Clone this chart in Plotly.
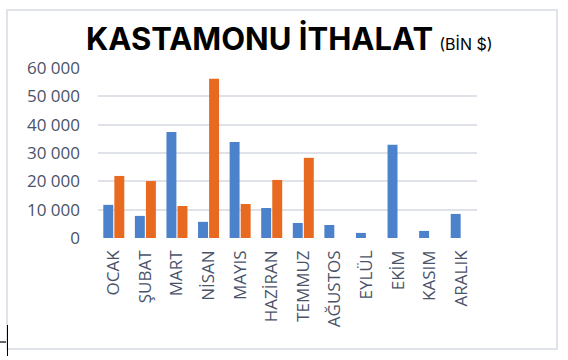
import plotly.graph_objects as go

months = ["OCAK", "ŞUBAT", "MART", "NİSAN", "MAYIS", "HAZİRAN", "TEMMUZ",
          "AĞUSTOS", "EYLÜL", "EKİM", "KASIM", "ARALIK"]
series_blue = [11700, 7800, 37400, 5700, 33900, 10600, 5300, 4600, 1800, 32900, 2500, 8500]
series_orange = [21900, 20100, 11300, 56200, 12000, 20500, 28300, None, None, None, None, None]
y_tickvals = [0, 10000, 20000, 30000, 40000, 50000, 60000]
y_ticktext = ["0", "10 000", "20 000", "30 000", "40 000", "50 000", "60 000"]

W, H = 568, 360
L, R, T, B = 98, 477, 68, 238  # plot area in px
pw, ph = R - L, B - T


def px_x(x):
    return (x - L) / pw


def px_y(y):
    return (B - y) / ph


fig = go.Figure()
fig.add_trace(go.Bar(x=months, y=series_blue, name="Seri 1",
                     marker=dict(color="#4c82cc", line=dict(width=0))))
fig.add_trace(go.Bar(x=months, y=series_orange, name="Seri 2",
                     marker=dict(color="#e86a20", line=dict(width=0))))

tick_font = dict(family="Open Sans, sans-serif", size=17, color="#4a5369")

fig.update_layout(
    width=W, height=H,
    margin=dict(l=L, r=W - R, t=T, b=H - B, pad=0),
    paper_bgcolor="white", plot_bgcolor="white",
    showlegend=False,
    barmode="group", bargap=0.3, bargroupgap=0.1,
    xaxis=dict(showgrid=False, zeroline=False, showline=False, tickangle=-90,
               tickfont=tick_font, ticks="", ticklabelstandoff=8),
    yaxis=dict(range=[0, 60000], tickvals=y_tickvals, ticktext=y_ticktext,
               showgrid=True, gridcolor="#dfe2e8", gridwidth=2,
               zeroline=False, showline=False, tickfont=tick_font,
               ticks="", ticklabelstandoff=17),
)

# title
fig.add_annotation(xref="paper", yref="paper", x=px_x(84), y=px_y(39),
                   xanchor="left", yanchor="middle", showarrow=False,
                   text="<b>KASTAMONU İTHALAT</b> <span style='font-size:16px;font-weight:400'>(BİN $)</span>",
                   font=dict(family="Inter, sans-serif", size=31, color="#000000", weight=900))

# chart border
fig.add_shape(type="rect", xref="paper", yref="paper",
              x0=px_x(7), x1=px_x(557), y0=px_y(349), y1=px_y(10),
              line=dict(color="#e0e3e9", width=2), layer="below")
# cursor artifact
fig.add_shape(type="line", xref="paper", yref="paper",
              x0=px_x(7.5), x1=px_x(7.5), y0=px_y(325), y1=px_y(356),
              line=dict(color="#000000", width=1))
fig.add_shape(type="line", xref="paper", yref="paper",
              x0=px_x(0), x1=px_x(6), y0=px_y(342), y1=px_y(342),
              line=dict(color="#333333", width=1.5))

fig.write_html("out.html", config={"displayModeBar": False},
               post_script="document.body.style.margin='0';document.body.style.overflow='hidden';")
